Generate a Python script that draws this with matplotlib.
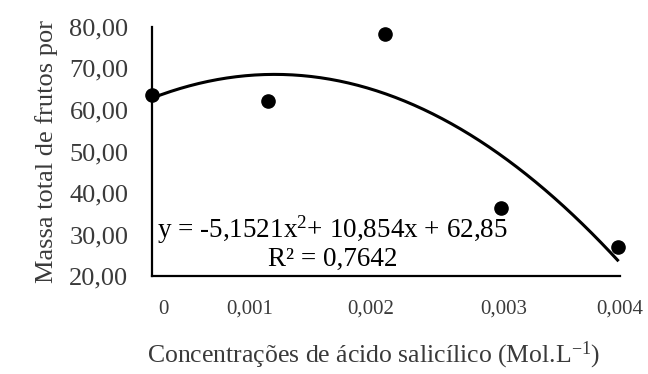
import numpy as np
import matplotlib
matplotlib.use("Agg")
import matplotlib.pyplot as plt

plt.rcParams['font.family'] = ['Liberation Serif', 'DejaVu Serif']
plt.rcParams['mathtext.fontset'] = 'custom'
plt.rcParams['mathtext.rm'] = 'Liberation Serif'
plt.rcParams['mathtext.it'] = 'Liberation Serif'

# Concentration levels (Mol.L-1) and measured fruit mass
concentrations = ['0', '0,001', '0,002', '0,003', '0,004']
massa = [63.6, 62.2, 78.2, 36.5, 27.1]

# Quadratic trend (x = level index 0..4)
coef_a, coef_b, coef_c = -5.1521, 10.854, 62.85
r2 = 0.7642

y_ticks = [20, 30, 40, 50, 60, 70, 80]

text_grey = '#3a3a3a'

fig = plt.figure(figsize=(6.48, 3.74), dpi=100)
ax = fig.add_axes([0.2346, 0.262, 0.722, 0.666])

idx = np.arange(len(massa))
xs = np.linspace(0, len(massa) - 1, 200)
ax.plot(xs, coef_a * xs**2 + coef_b * xs + coef_c, color='black', lw=2.2,
        clip_on=False, zorder=2)
ax.plot(idx, massa, 'o', color='black', ms=9.5, clip_on=False, zorder=3)

ax.set_xlim(0, len(massa) - 1)
ax.set_ylim(20, 80)
ax.set_yticks(y_ticks)
ax.set_yticklabels([f"{v:.2f}".replace('.', ',') for v in y_ticks], fontsize=19,
                   color=text_grey)
ax.tick_params(axis='y', length=0, pad=17)

# category labels sit slightly offset from the level positions
label_pos = [0.094, 0.84, 1.88, 3.02, 4.02]
ax.set_xticks(label_pos)
ax.set_xticklabels(concentrations, fontsize=15, color=text_grey)
ax.tick_params(axis='x', length=0, pad=17)

for s in ['top', 'right']:
    ax.spines[s].set_visible(False)
for s in ['left', 'bottom']:
    ax.spines[s].set_linewidth(1.6)

ax.set_ylabel('Massa total de frutos por', fontsize=19, color=text_grey)
ax.yaxis.set_label_coords(-0.2, 0.5)
ax.set_xlabel(r'Concentrações de ácido salicílico (Mol.L$^{-1}$)', fontsize=18.5,
              color=text_grey)
ax.xaxis.set_label_coords(0.474, -0.255)

eq = f"y = {coef_a:.4f}x$^{{2}}$+ {coef_b:.3f}x + {coef_c:.2f}".replace('.', ',')
ax.text(0.04, 31.1, eq, fontsize=19.5, ha='left', va='center')
ax.text(1.55, 23.9, f"R² = {r2:.4f}".replace('.', ','), fontsize=19.5,
        ha='center', va='center')

fig.savefig('out.png', dpi=100)
